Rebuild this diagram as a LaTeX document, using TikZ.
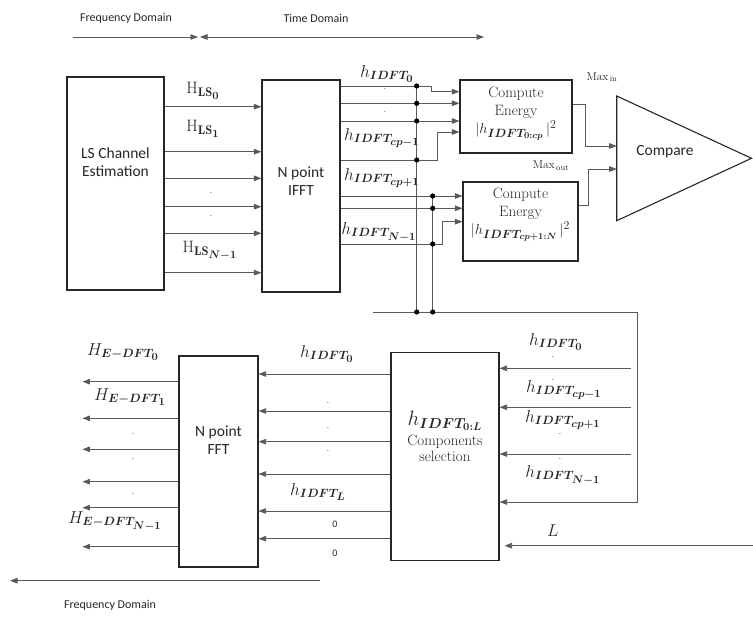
\documentclass[tikz,border=0pt]{standalone}
\usepackage{amsmath}
\usepackage{fontspec}
\newfontfamily\calfont{Carlito}
\usetikzlibrary{arrows.meta}
\DeclareMathSizes{16.5}{16.5}{12.5}{10.5}
\DeclareMathSizes{15}{15}{11.5}{9.5}
\DeclareMathSizes{20}{20}{14.5}{11}
\newcommand{\hidft}[1]{h_{\boldsymbol{IDFT_{#1}}}}
\newcommand{\hedft}[1]{H_{\boldsymbol{E-DFT_{#1}}}}

\tikzset{
  block/.style={draw=black!85,line width=1.1pt},
  wire/.style={draw=black!65,line width=0.8pt},
  arr/.style={wire,->},
  joint/.style={fill=black},
  sanslab/.style={font=\calfont\fontsize{15.5}{18}\selectfont,align=center,text=black!85},
  domlab/.style={font=\calfont\fontsize{12}{14}\selectfont,text=black!85},
  serlab/.style={font=\fontsize{15}{18}\selectfont,align=center,text=black!85},
  maxlab/.style={font=\fontsize{11.5}{13}\selectfont,text=black!85},
  mlab/.style={font=\fontsize{16.5}{18}\selectfont,text=black!85},
  dotlab/.style={font=\fontsize{10}{12}\selectfont,text=black!70},
  zlab/.style={font=\calfont\fontsize{10}{12}\selectfont,text=black!85},
}

\begin{document}
\begin{tikzpicture}[x=1pt,y=-1pt,>={Triangle[length=7.5pt,width=5.5pt]}]
\useasboundingbox (0,0) rectangle (753,618);

% domain arrows on top
\coordinate (fdL) at (73,37);
\coordinate (fdR) at (198,37);
\coordinate (tdL) at (200,37);
\coordinate (tdR) at (484,37);
\draw[arr] (fdL) -- (fdR);
\draw[wire,<->] (tdL) -- (tdR);
\node[domlab] (fdText) at (126,18) {Frequency Domain};
\node[domlab] (tdText) at (316,18) {Time Domain};

% blocks
\node[block,minimum width=97pt,minimum height=213pt] (ls) at (115.5,183.5) {};
\node[sanslab] (lsText) at (115.5,162) {LS Channel\\Estimation};
\node[block,minimum width=78pt,minimum height=212pt] (ifft) at (301,186) {};
\node[sanslab] (ifftText) at (301,181) {N point\\IFFT};
\node[block,minimum width=112pt,minimum height=73pt] (energyA) at (516,116.5) {};
\node[serlab] (energyAText) at (516,114) {Compute\\Energy\\$|\hidft{0:cp}\,|^2$};
\node[block,minimum width=115pt,minimum height=79pt] (energyB) at (520.5,221.5) {};
\node[serlab] (energyBText) at (520.5,215) {Compute\\Energy\\$|\hidft{cp+1:N}\,|^2$};
\node[block,minimum width=108pt,minimum height=208pt] (sel) at (445,456.5) {};
\node[serlab] (selText) at (445,436) {{\fontsize{20}{22}\selectfont$\hidft{0:L}$}\\[2pt]Components\\[-2pt]selection};
\node[block,minimum width=79pt,minimum height=211pt] (fft) at (218.5,461.5) {};
\node[sanslab] (fftText) at (218.5,440) {N point\\FFT};

% compare triangle
\coordinate (cmpTop) at (616.7,96);
\coordinate (cmpTip) at (751.5,158.3);
\coordinate (cmpBot) at (616.7,220.7);
\draw[block] (cmpTop) -- (cmpTip) -- (cmpBot) -- cycle;
\node[sanslab] (cmp) at (665,152) {Compare};

% LS estimates into the IFFT
\foreach \y in {106.7,151.7,178.3,206.7,233.3,272.7}
  \draw[arr] (ls.east |- 0,\y) -- (ifft.west |- 0,\y);
\node[mlab] (hls0) at (203,91) {$\mathrm{H}_{\boldsymbol{\mathrm{LS}_0}}$};
\node[mlab] (hls1) at (203,129) {$\mathrm{H}_{\boldsymbol{\mathrm{LS}_1}}$};
\node[dotlab] (lsDotA) at (211,193) {.};
\node[dotlab] (lsDotB) at (211,216) {.};
\node[mlab] (hlsN) at (210,251) {$\mathrm{H}_{\boldsymbol{\mathrm{LS}_{N-1}}}$};

% IFFT outputs into the energy blocks
\draw[arr] (ifft.east |- 0,86) -- (431,86) |- (energyA.west |- 0,91.7);
\foreach \y in {103.3,121}
  \draw[arr] (ifft.east |- 0,\y) -- (energyA.west |- 0,\y);
\draw[arr] (ifft.east |- 0,160) -- (437,160) |- (energyA.west |- 0,132);
\foreach \y in {196,208.3}
  \draw[arr] (ifft.east |- 0,\y) -- (energyB.west |- 0,\y);
\draw[arr] (ifft.east |- 0,244) -- (442,244) |- (energyB.west |- 0,221.7);
\node[mlab] (hi0) at (387,74) {$\hidft{0}$};
\node[dotlab] (ifDotA) at (385,89) {.};
\node[dotlab] (ifDotB) at (385,112) {.};
\node[mlab] (hicpm) at (382,138) {$\hidft{cp-1}$};
\node[mlab] (hicpp) at (382,178) {$\hidft{cp+1}$};
\node[mlab] (hiN) at (379,232) {$\hidft{N-1}$};

% energies into compare
\draw[arr] (energyA.east |- 0,104.3) -- (585,104.3) |- (cmpTop |- 0,146);
\draw[arr] (energyB.east |- 0,205.7) -- (588.3,205.7) |- (cmpTop |- 0,169);
\node[maxlab] (maxIn) at (602,77) {Max$_{\,\text{in}}$};
\node[maxlab] (maxOut) at (551,166) {Max$_{\,\text{out}}$};

% bus down to the selection block
\coordinate (busA) at (416.7,312);
\coordinate (busB) at (432.7,312);
\coordinate (busL) at (373,312);
\coordinate (busR) at (637,312);
\draw[wire] (busA |- 0,86) -- (busA);
\draw[wire] (busB |- 0,196) -- (busB);
\draw[wire] (busL) -- (busR);
\draw[arr] (busR) |- (sel.east |- 0,502);
\foreach \y in {86,103.3,121,160,312}
  \fill[joint] (busA |- 0,\y) circle (2.6pt);
\foreach \y in {196,208.3,244,312}
  \fill[joint] (busB |- 0,\y) circle (2.6pt);

% other inputs of the selection block
\coordinate (selIn) at (630.7,368.3);
\foreach \y in {368.3,407.3,454}
  \draw[arr] (selIn |- 0,\y) -- (sel.east |- 0,\y);
\node[mlab] (sh0) at (556,342) {$\hidft{0}$};
\node[dotlab] (sDotA) at (553,357) {.};
\node[dotlab] (sDotB) at (553,380) {.};
\node[mlab] (shcpm) at (564,390) {$\hidft{cp-1}$};
\node[mlab] (shcpp) at (563,420) {$\hidft{cp+1}$};
\node[dotlab] (sDotC) at (560,434) {.};
\node[dotlab] (sDotD) at (560,459) {.};
\node[mlab] (shN) at (563,475) {$\hidft{N-1}$};
\coordinate (Lsrc) at (753,545.7);
\draw[arr,shorten >=5pt] (Lsrc) -- (sel.east |- Lsrc);
\node[mlab] (Llab) at (553,531) {$L$};

% selected taps into the FFT
\foreach \y in {374,411,441.7,474,511,538.7}
  \draw[arr] (sel.west |- 0,\y) -- (fft.east |- 0,\y);
\node[mlab] (fh0) at (327,354) {$\hidft{0}$};
\node[dotlab] (fDotA) at (328,403) {.};
\node[dotlab] (fDotB) at (328,428) {.};
\node[dotlab] (fDotC) at (328,451) {.};
\node[mlab] (fhL) at (318,492) {$\hidft{L}$};
\node[zlab] (zeroA) at (335,524) {0};
\node[zlab] (zeroB) at (335,553) {0};

% FFT outputs
\foreach \y in {381.7,418.3,449.3,481.7,507.7,546.7}
  \draw[arr] (fft.west |- 0,\y) -- ++(-96,0);
\node[mlab] (he0) at (123,352) {$\hedft{0}$};
\node[mlab] (he1) at (130,397) {$\hedft{1}$};
\node[dotlab] (eDotA) at (133,434) {.};
\node[dotlab] (eDotB) at (133,459) {.};
\node[dotlab] (eDotC) at (133,494) {.};
\node[mlab] (heN) at (115,521) {$\hedft{N-1}$};

% frequency domain arrow at the bottom
\coordinate (fbR) at (320,580.7);
\coordinate (fbL) at (10,580.7);
\draw[arr] (fbR) -- (fbL);
\node[domlab] (fbText) at (110,605) {Frequency Domain};
\end{tikzpicture}
\end{document}
